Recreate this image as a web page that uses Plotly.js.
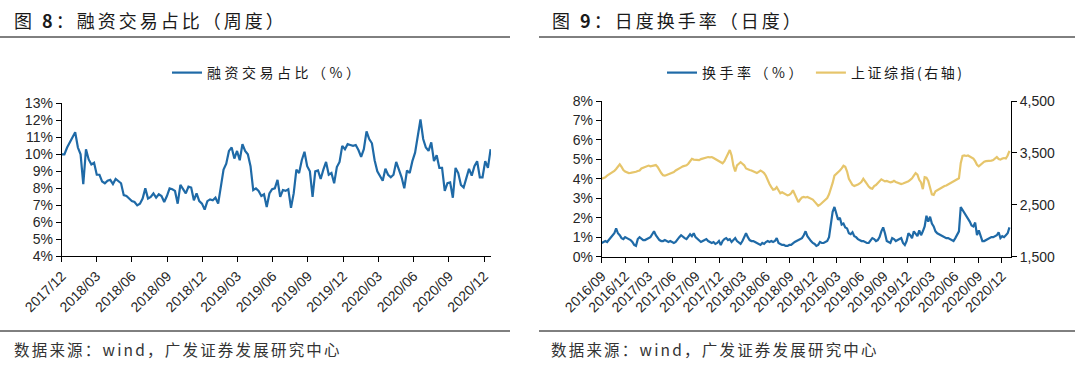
<!DOCTYPE html>
<html>
<head>
<meta charset="utf-8">
<script src="https://cdn.plot.ly/plotly-3.0.1.min.js"></script>
<style>
html,body{margin:0;padding:0;background:#fff;}
#chart{width:1080px;height:369px;}
</style>
</head>
<body>
<div id="chart"></div>
<script>
// ---- Figure 8: weekly margin-trading share (%) ----
const marginStart = "2017-12-01";           // first week
const marginShare = [
10.0,10.0,10.4,10.7,11.0,11.3,10.4,10.0,8.25,10.3,
9.7,9.4,9.5,8.8,8.8,8.4,8.3,8.45,8.5,8.25,
8.55,8.45,8.3,7.6,7.55,7.4,7.25,7.2,7.0,7.1,
7.4,8.0,7.4,7.5,7.7,7.45,7.65,7.55,7.2,7.55,
8.0,7.95,7.85,7.1,8.2,7.95,7.7,8.1,8.05,7.3,
7.7,7.25,7.1,6.75,7.25,7.35,7.3,7.45,7.1,8.1,
9.1,9.45,10.2,10.4,9.75,10.2,9.65,10.6,10.2,10.0,
9.3,7.9,8.0,7.85,7.55,7.65,6.9,7.7,7.95,8.0,
8.5,7.5,7.9,7.85,7.95,6.85,7.7,9.1,8.9,9.65,
10.15,9.3,9.0,7.5,9.0,9.05,8.55,9.1,9.55,8.8,
8.9,8.3,9.25,9.55,10.5,10.3,10.6,10.55,10.5,10.55,
10.25,9.85,10.3,11.35,10.9,10.65,9.65,9.0,8.7,8.45,
9.15,8.8,8.65,8.8,9.55,9.1,8.65,8.0,9.05,8.9,
9.6,10.1,11.1,12.05,10.9,10.4,10.2,10.7,9.6,9.95,
9.2,9.2,7.85,8.3,8.35,7.45,9.2,8.9,8.2,8.05,
8.6,9.15,8.75,9.3,9.6,8.65,8.65,9.6,9.2,10.3
];

// ---- Figure 9: turnover (%) and SSE Composite (right axis) ----
const turnStart = "2016-09-01";             // first sample, weekly samples
const turnover = [
0.7,0.75,0.8,0.75,0.85,1.0,1.05,1.2,1.45,1.2,
1.1,0.95,0.9,1.0,0.95,0.9,0.85,0.75,0.6,0.55,
0.9,1.0,0.9,0.85,0.85,0.9,0.95,1.0,1.15,1.3,
1.1,0.95,0.85,0.8,0.8,0.85,0.8,0.75,0.8,0.75,
0.7,0.75,0.9,1.0,1.1,1.0,0.95,0.9,1.0,1.15,
1.05,1.2,1.0,0.9,0.8,0.75,0.8,0.85,0.9,0.8,
0.75,0.7,0.75,0.65,0.7,0.8,0.6,0.8,0.9,0.95,
0.85,0.9,0.75,0.85,0.95,0.8,0.7,0.65,0.8,1.0,
1.2,1.0,0.85,0.8,0.8,0.75,0.7,0.65,0.6,0.7,
0.65,0.75,0.8,0.75,0.8,0.75,0.8,0.95,0.7,0.65,
0.6,0.6,0.55,0.55,0.6,0.6,0.7,0.75,0.8,0.85,
0.9,0.95,1.1,1.3,1.05,0.9,0.8,0.7,0.65,0.55,
0.6,0.75,0.7,0.7,0.75,0.8,1.0,1.6,2.3,2.55,
2.2,1.9,2.0,1.65,1.7,1.5,1.45,1.2,1.15,1.25,
1.05,1.0,0.9,0.85,0.8,0.8,0.75,0.7,0.7,0.8,
0.95,0.9,0.8,0.85,1.0,1.3,1.5,1.2,0.8,0.75,
0.7,0.95,0.9,0.8,0.85,0.9,0.95,0.7,0.6,0.8,
1.2,1.1,0.95,1.3,1.2,1.05,1.35,1.1,1.3,1.55,
2.1,1.8,2.05,1.7,1.55,1.3,1.2,1.15,1.1,1.05,
1.0,0.95,0.95,0.9,0.85,0.8,0.95,1.15,1.3,2.55,
2.4,2.3,2.15,2.0,1.8,1.6,1.55,1.75,1.1,1.35,
1.0,0.8,0.8,0.85,0.9,0.95,1.0,1.0,1.05,1.1,
1.25,0.95,1.05,1.0,1.1,1.2,1.5
];
const sseIndex = [
3000,3010,3030,3060,3080,3100,3120,3150,3190,3240,
3280,3230,3170,3140,3120,3110,3115,3120,3130,3135,
3150,3160,3200,3215,3235,3240,3255,3240,3245,3260,
3265,3230,3160,3110,3070,3060,3075,3090,3100,3110,
3130,3160,3175,3190,3220,3240,3250,3260,3290,3340,
3385,3370,3365,3355,3360,3380,3390,3385,3400,3420,
3415,3420,3400,3380,3350,3330,3320,3300,3340,3420,
3470,3555,3450,3250,3140,3260,3290,3320,3290,3260,
3200,3180,3170,3160,3140,3120,3110,3135,3160,3140,
3110,3060,2960,2900,2840,2790,2800,2840,2780,2720,
2740,2720,2700,2680,2690,2720,2780,2700,2640,2550,
2600,2640,2650,2640,2650,2630,2610,2600,2560,2520,
2480,2500,2530,2560,2600,2630,2700,2800,2920,3060,
3090,3120,3160,3200,3250,3230,3140,3000,2930,2880,
2860,2870,2890,2910,2940,3000,2960,2900,2850,2820,
2810,2860,2880,2920,2960,2990,2970,2950,2960,2940,
2930,2940,2960,2940,2930,2910,2900,2910,2920,2930,
2950,2980,3010,3060,3110,3080,2980,2930,2800,3030,
3020,2960,2820,2700,2690,2760,2780,2800,2830,2850,
2860,2870,2890,2910,2920,2940,2960,2990,3010,3300,
3440,3450,3440,3450,3430,3420,3390,3340,3270,3240,
3270,3310,3330,3340,3340,3350,3350,3360,3390,3420,
3380,3370,3390,3400,3390,3450,3540
];

const titleLeft = "图 <b>8</b>：融资交易占比（周度）";
const titleRight = "图 <b>9</b>：日度换手率（日度）";
const legendLeft = "融资交易占比（%）";
const legendTurn = "换手率（%）";
const legendSSE = "上证综指(右轴)";
const sourceText = "数据来源：wind，广发证券发展研究中心";

function weekly(start, n) {
  const p = start.split("-").map(Number);
  const base = Date.UTC(p[0], p[1]-1, p[2]);
  const out = [];
  for (let i = 0; i < n; i++) {
    out.push(new Date(base + i*7*86400000).toISOString().slice(0,10));
  }
  return out;
}
const spaced = (t, s) => '<span style="letter-spacing:' + s + 'px">' + t + '</span>';

const W = 1080, H = 369;
const px = v => v / W;
const py = v => 1 - v / H;

const BLUE = "#1f6aa7", GOLD = "#e6c56b";
const CJK = "Noto Sans CJK SC, Noto Sans, sans-serif";
const LAT = "Liberation Sans, Arial, sans-serif";
const TXT = "#262626";

const traces = [
  {x: weekly(marginStart, marginShare.length), y: marginShare, type: "scatter", mode: "lines",
   name: spaced(legendLeft, 3.5), line: {color: BLUE, width: 2.2}, xaxis: "x", yaxis: "y", legend: "legend"},
  {x: weekly(turnStart, turnover.length), y: turnover, type: "scatter", mode: "lines",
   name: spaced(legendTurn, 3.5), line: {color: BLUE, width: 2.2}, xaxis: "x2", yaxis: "y2", legend: "legend2"},
  {x: weekly(turnStart, sseIndex.length), y: sseIndex, type: "scatter", mode: "lines",
   name: spaced(legendSSE, 2.5), line: {color: GOLD, width: 2.2}, xaxis: "x2", yaxis: "y3", legend: "legend2"}
];

const axisBase = {
  showgrid: false, zeroline: false, showline: true, linecolor: "#000", linewidth: 1,
  ticks: "outside", ticklen: 5, tickcolor: "#000", tickwidth: 1,
  tickfont: {family: LAT, size: 14, color: TXT}
};

const layout = {
  width: W, height: H, autosize: false,
  margin: {l: 0, r: 0, t: 0, b: 0},
  paper_bgcolor: "#fff", plot_bgcolor: "rgba(0,0,0,0)",
  showlegend: true,
  xaxis: Object.assign({}, axisBase, {
    domain: [px(61.7), px(491)], anchor: "y", type: "date",
    range: ["2017-12-01", "2020-12-19"],
    tick0: "2017-12-01", dtick: "M3", tickformat: "%Y/%m", tickangle: -45
  }),
  yaxis: Object.assign({}, axisBase, {
    domain: [py(256.4), py(103.3)], anchor: "x",
    range: [4, 13], dtick: 1, ticksuffix: "%"
  }),
  xaxis2: Object.assign({}, axisBase, {
    domain: [px(601.7), px(1011)], anchor: "y2", type: "date",
    range: ["2016-09-01", "2021-01-06"],
    tick0: "2016-09-01", dtick: "M3", tickformat: "%Y/%m", tickangle: -45
  }),
  yaxis2: Object.assign({}, axisBase, {
    domain: [py(256.6), py(101)], anchor: "x2",
    range: [0, 8], dtick: 1, ticksuffix: "%"
  }),
  yaxis3: Object.assign({}, axisBase, {
    overlaying: "y2", side: "right", anchor: "x2",
    range: [1500, 4500], tick0: 1500, dtick: 1000, tickformat: ",d"
  }),
  legend: {
    orientation: "h", x: px(268), y: py(73), xanchor: "center", yanchor: "middle",
    font: {family: CJK, size: 14, color: "#1a1a1a"}, bgcolor: "rgba(0,0,0,0)"
  },
  legend2: {
    orientation: "h", x: px(816), y: py(73), xanchor: "center", yanchor: "middle",
    font: {family: CJK, size: 14, color: "#1a1a1a"}, bgcolor: "rgba(0,0,0,0)"
  },
  annotations: [
    {text: spaced(titleLeft, 3), xref: "paper", yref: "paper", x: px(12), y: py(20), xanchor: "left", yanchor: "middle",
     showarrow: false, font: {family: CJK, size: 18, color: "#1a1a1a"}},
    {text: spaced(titleRight, 3), xref: "paper", yref: "paper", x: px(550), y: py(20), xanchor: "left", yanchor: "middle",
     showarrow: false, font: {family: CJK, size: 18, color: "#1a1a1a"}},
    {text: spaced(sourceText, 2.2), xref: "paper", yref: "paper", x: px(12), y: py(349), xanchor: "left", yanchor: "middle",
     showarrow: false, font: {family: CJK, size: 15.5, color: "#333"}},
    {text: spaced(sourceText, 2.2), xref: "paper", yref: "paper", x: px(549), y: py(349), xanchor: "left", yanchor: "middle",
     showarrow: false, font: {family: CJK, size: 15.5, color: "#333"}}
  ],
  shapes: [
    {type: "line", xref: "paper", yref: "paper", x0: 0, x1: px(510), y0: py(37), y1: py(37), line: {color: "#000", width: 1}},
    {type: "line", xref: "paper", yref: "paper", x0: px(539), x1: px(1075), y0: py(37), y1: py(37), line: {color: "#000", width: 1}},
    {type: "line", xref: "paper", yref: "paper", x0: 0, x1: px(510), y0: py(331), y1: py(331), line: {color: "#000", width: 1}},
    {type: "line", xref: "paper", yref: "paper", x0: px(539), x1: px(1075), y0: py(331), y1: py(331), line: {color: "#000", width: 1}}
  ]
};

Plotly.newPlot("chart", traces, layout, {staticPlot: true, displayModeBar: false});
</script>
</body>
</html>
